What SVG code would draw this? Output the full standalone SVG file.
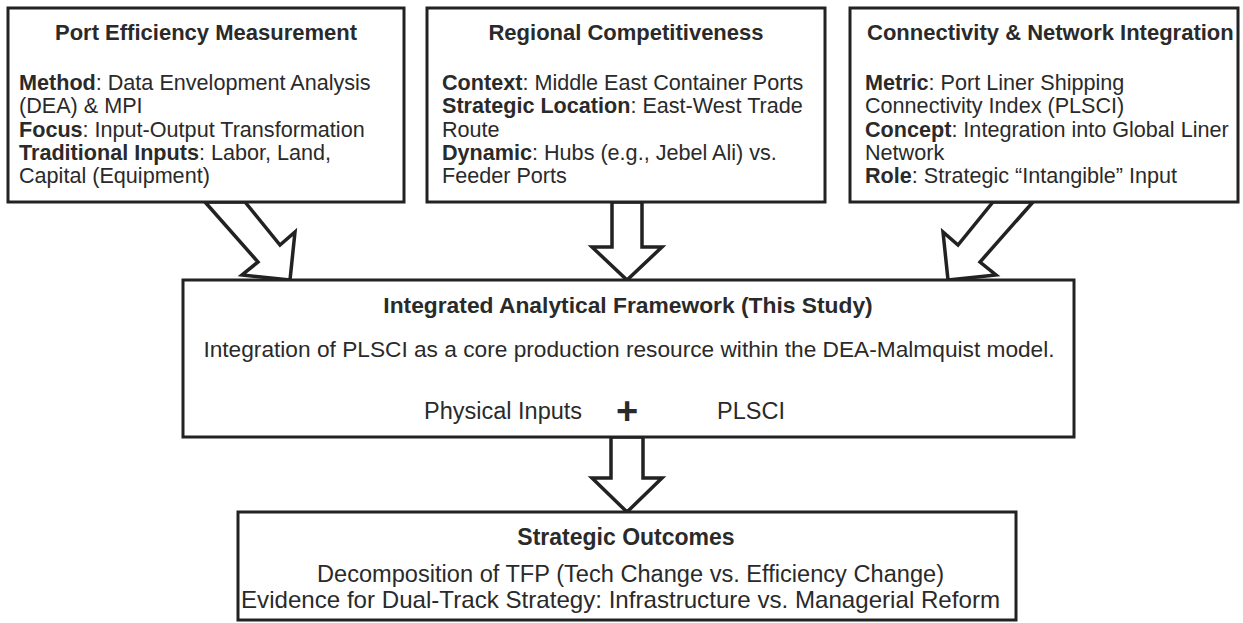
<svg xmlns="http://www.w3.org/2000/svg" width="1243" height="623" viewBox="0 0 1243 623">
<style>
.box{fill:#fff;stroke:#222;stroke-width:3}
.arr{fill:#fff;stroke:#222;stroke-width:3.5;stroke-linejoin:miter}
text{font-family:"Liberation Sans",Arial,sans-serif;fill:#2a2a2a}
.tt{font-size:22px;font-weight:bold}
.bd{font-size:21.6px}
.b{font-weight:bold}
.mt{font-size:22.8px;font-weight:bold}
.mb{font-size:22.7px}
.lt{font-size:23px;font-weight:bold}
.lb{font-size:23.5px}
</style>
<rect width="1243" height="623" fill="#fff"/>
<g id="connectors">
<polygon class="arr" points="205,202 258,262 242,275 290,280 295,232 280,245 245,202"/>
<polygon class="arr" points="612,202 612,247 592,247 627,280 662,247 642,247 642,202"/>
<polygon class="arr" points="1033,202 980,262 996,275 948,280 943,232 958,245 993,202"/>
<polygon class="arr" points="611,437 611,478 592,478 627,512 662,478 643,478 643,437"/>
</g>
<g id="port-efficiency">
<rect class="box" x="8" y="8" width="396" height="194"/>
<text class="tt" x="206" y="40" text-anchor="middle">Port Efficiency Measurement</text>
<text class="bd" x="19" y="90"><tspan class="b">Method</tspan>: Data Envelopment Analysis</text>
<text class="bd" x="19" y="113">(DEA) &amp; MPI</text>
<text class="bd" x="19" y="137"><tspan class="b">Focus</tspan>: Input-Output Transformation</text>
<text class="bd" x="19" y="160"><tspan class="b">Traditional Inputs</tspan>: Labor, Land,</text>
<text class="bd" x="19" y="183">Capital (Equipment)</text>
</g>
<g id="regional">
<rect class="box" x="427" y="8" width="398" height="194"/>
<text class="tt" x="626" y="40" text-anchor="middle">Regional Competitiveness</text>
<text class="bd" x="442" y="90"><tspan class="b">Context</tspan>: Middle East Container Ports</text>
<text class="bd" x="442" y="113"><tspan class="b">Strategic Location</tspan>: East-West Trade</text>
<text class="bd" x="442" y="137">Route</text>
<text class="bd" x="442" y="160"><tspan class="b">Dynamic</tspan>: Hubs (e.g., Jebel Ali) vs.</text>
<text class="bd" x="442" y="183">Feeder Ports</text>
</g>
<g id="connectivity">
<rect class="box" x="850" y="8" width="388" height="194"/>
<text class="tt" x="867" y="40">Connectivity &amp; Network Integration</text>
<text class="bd" x="865" y="90"><tspan class="b">Metric</tspan>: Port Liner Shipping</text>
<text class="bd" x="865" y="113">Connectivity Index (PLSCI)</text>
<text class="bd" x="865" y="137"><tspan class="b">Concept</tspan>: Integration into Global Liner</text>
<text class="bd" x="865" y="160">Network</text>
<text class="bd" x="865" y="183"><tspan class="b">Role</tspan>: Strategic “Intangible” Input</text>
</g>
<g id="framework">
<rect class="box" x="183" y="280" width="891" height="157"/>
<text class="mt" x="628" y="313" text-anchor="middle">Integrated Analytical Framework (This Study)</text>
<text class="mb" x="629" y="357" text-anchor="middle">Integration of PLSCI as a core production resource within the DEA-Malmquist model.</text>
<text class="lb" x="424" y="419">Physical Inputs</text>
<text x="627" y="424" text-anchor="middle" style="font-size:38px;font-weight:bold">+</text>
<text class="lb" x="717" y="419">PLSCI</text>
</g>
<g id="outcomes">
<rect class="box" x="238" y="512" width="778" height="108"/>
<text class="lt" x="626" y="545" text-anchor="middle">Strategic Outcomes</text>
<text class="lb" x="317" y="582" textLength="627" lengthAdjust="spacingAndGlyphs">Decomposition of TFP (Tech Change vs. Efficiency Change)</text>
<text class="lb" x="241" y="608" textLength="759" lengthAdjust="spacingAndGlyphs" style="font-size:24px">Evidence for Dual-Track Strategy: Infrastructure vs. Managerial Reform</text>
</g>
</svg>
